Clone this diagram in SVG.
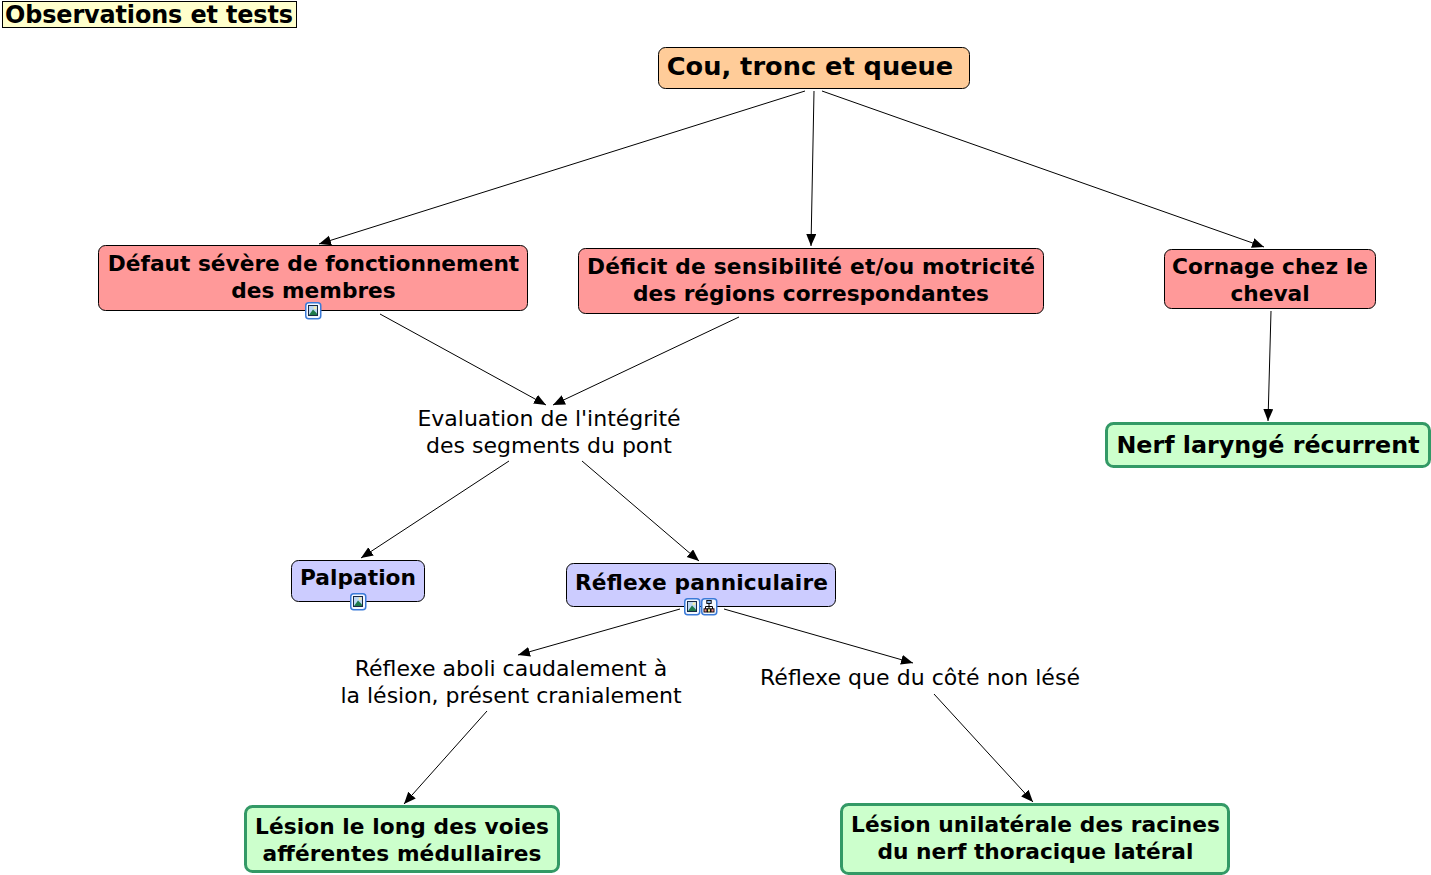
<svg xmlns="http://www.w3.org/2000/svg" width="1431" height="875" viewBox="0 0 1431 875">
<defs>
<marker id="arr" markerUnits="userSpaceOnUse" markerWidth="13" markerHeight="11" refX="12" refY="5" orient="auto"><path d="M0,0L12,5L0,10Z" fill="#000"/></marker>
<g id="imgicon"><rect x="0.750" y="0.750" width="15" height="16" rx="3" fill="#f4f8ff" stroke="#3a7ad8" stroke-width="1.500"/><rect x="3.500" y="3.500" width="9" height="10" fill="#bcd8f4" stroke="#1a2a44"/><path d="M4,13L8,7.500L12,11.500V13Z" fill="#1f7a4a"/><circle cx="10" cy="5.800" r="1.500" fill="#f6ecaa"/></g>
<g id="mapicon"><rect x="0.750" y="0.750" width="15" height="16" rx="3" fill="#f4f8ff" stroke="#3a7ad8" stroke-width="1.500"/><path d="M8,5V9M4.500,11V8.500H11.500V11M8,9V11" fill="none" stroke="#000"/><rect x="5.800" y="2.500" width="4.400" height="3" fill="#8fb8e8" stroke="#000" stroke-width=".9"/><rect x="3" y="10.800" width="3" height="3.200" fill="#e88" stroke="#000" stroke-width=".9"/><rect x="6.500" y="10.800" width="3" height="3.200" fill="#ee8" stroke="#000" stroke-width=".9"/><rect x="10" y="10.800" width="3" height="3.200" fill="#e88" stroke="#000" stroke-width=".9"/></g>
</defs>
<style>
text{font-family:"DejaVu Sans",Verdana,sans-serif;fill:#000;text-anchor:middle}
.b{font-weight:bold}
.n{stroke:#000;stroke-width:1}
.m{font-size:21.7px}
.t{font-size:22px}
.g{fill:#ccffcc;stroke:#339966;stroke-width:3}
.c line{stroke:#000;stroke-width:1;marker-end:url(#arr)}
</style>
<g class="c" id="connectors">
<line x1="805" y1="91" x2="319" y2="244"/>
<line x1="814" y1="91" x2="811" y2="246"/>
<line x1="822" y1="91" x2="1264" y2="247"/>
<line x1="380" y1="314" x2="546" y2="405"/>
<line x1="739" y1="317" x2="553" y2="405"/>
<line x1="1271" y1="311" x2="1268" y2="421"/>
<line x1="509" y1="461" x2="361" y2="558"/>
<line x1="582" y1="461" x2="699" y2="561"/>
<line x1="680" y1="609" x2="518" y2="655"/>
<line x1="724" y1="609" x2="913" y2="663"/>
<line x1="487" y1="711" x2="404" y2="804"/>
<line x1="934" y1="694" x2="1033" y2="802"/>
</g>
<g id="title"><rect x="2.500" y="1.500" width="294" height="26" fill="#ffffcc" stroke="#000"/><text class="b" x="149" y="23" font-size="23.900px" textLength="288">Observations et tests</text></g>
<g id="root"><rect class="n" x="658.500" y="47.500" width="311" height="41" rx="7" fill="#ffcc99"/><text class="b" x="810" y="75" font-size="25.650px">Cou, tronc et queue</text></g>
<g id="defaut"><rect class="n" x="98.500" y="245.500" width="429" height="65" rx="7" fill="#ff9999"/><text class="b m" x="313.500" y="271">Défaut sévère de fonctionnement</text><text class="b m" x="313.500" y="298">des membres</text><use href="#imgicon" x="305" y="302"/></g>
<g id="deficit"><rect class="n" x="578.500" y="248.500" width="465" height="65" rx="7" fill="#ff9999"/><text class="b m" x="811" y="274" textLength="448">Déficit de sensibilité et/ou motricité</text><text class="b m" x="811" y="301">des régions correspondantes</text></g>
<g id="cornage"><rect class="n" x="1164.500" y="249.500" width="211" height="59" rx="7" fill="#ff9999"/><text class="b m" x="1270" y="274" textLength="196">Cornage chez le</text><text class="b m" x="1270" y="301">cheval</text></g>
<g id="nerf"><rect class="g" x="1106.500" y="423.500" width="323" height="43" rx="7"/><text class="b" x="1268" y="452.500" font-size="23.800px">Nerf laryngé récurrent</text></g>
<g id="evaluation"><text class="t" x="549" y="426">Evaluation de l'intégrité</text><text class="t" x="549" y="453">des segments du pont</text></g>
<g id="palpation"><rect class="n" x="291.500" y="560.500" width="133" height="41" rx="7" fill="#ccccff"/><text class="b m" x="358" y="585" textLength="116">Palpation</text><use href="#imgicon" x="350" y="593"/></g>
<g id="reflexe"><rect class="n" x="566.500" y="563.500" width="269" height="43" rx="7" fill="#ccccff"/><text class="b m" x="701.500" y="590" textLength="253">Réflexe panniculaire</text><use href="#imgicon" x="684" y="598"/><use href="#mapicon" x="701" y="598"/></g>
<g id="aboli"><text class="t" x="511" y="676">Réflexe aboli caudalement à</text><text class="t" x="511" y="703">la lésion, présent cranialement</text></g>
<g id="que"><text class="t" x="920" y="685" textLength="320">Réflexe que du côté non lésé</text></g>
<g id="lesion1"><rect class="g" x="245.500" y="806.500" width="313" height="65" rx="7"/><text class="b m" x="402" y="834" textLength="294">Lésion le long des voies</text><text class="b m" x="402" y="861" textLength="279">afférentes médullaires</text></g>
<g id="lesion2"><rect class="g" x="841.500" y="804.500" width="387" height="69" rx="7"/><text class="b m" x="1035.500" y="832" textLength="369">Lésion unilatérale des racines</text><text class="b m" x="1035.500" y="859">du nerf thoracique latéral</text></g>
</svg>
